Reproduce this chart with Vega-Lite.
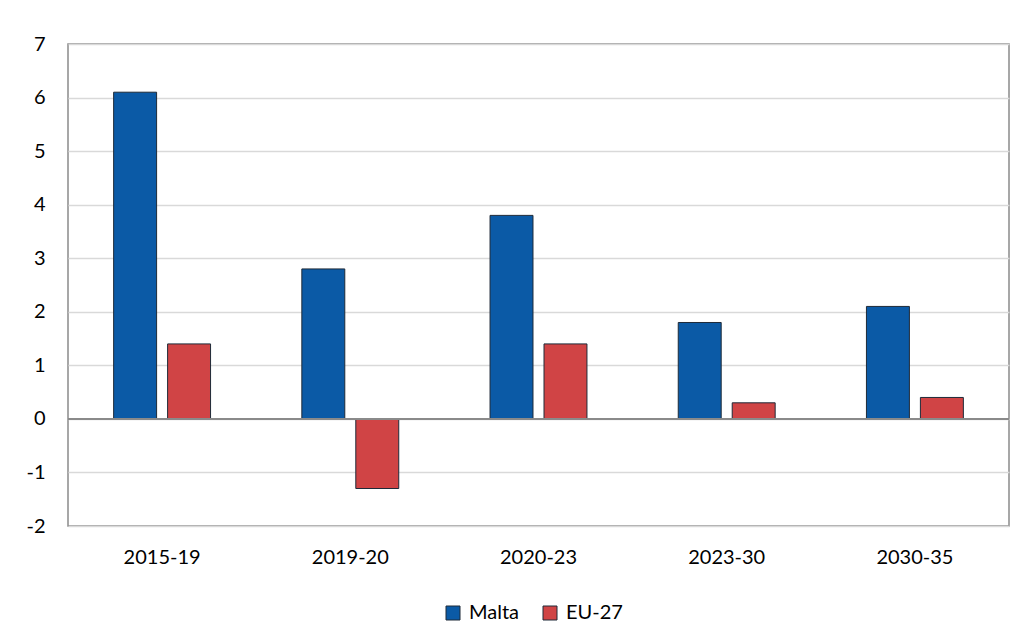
{
  "$schema": "https://vega.github.io/schema/vega-lite/v6.json",
  "autosize": "none",
  "width": 941,
  "height": 482,
  "padding": {"left": 68, "top": 44, "right": 16, "bottom": 115},
  "background": "white",
  "config": {
    "font": "Lato",
    "view": {"stroke": "#8a8a8a", "strokeWidth": 1.5},
    "axis": {"labelFont": "Lato", "labelFontSize": 20, "labelColor": "#000000", "ticks": false, "domain": false}
  },
  "data": {
    "values": [
      {"period": "2015-19", "series": "Malta", "value": 6.1},
      {"period": "2015-19", "series": "EU-27", "value": 1.4},
      {"period": "2019-20", "series": "Malta", "value": 2.8},
      {"period": "2019-20", "series": "EU-27", "value": -1.3},
      {"period": "2020-23", "series": "Malta", "value": 3.8},
      {"period": "2020-23", "series": "EU-27", "value": 1.4},
      {"period": "2023-30", "series": "Malta", "value": 1.8},
      {"period": "2023-30", "series": "EU-27", "value": 0.3},
      {"period": "2030-35", "series": "Malta", "value": 2.1},
      {"period": "2030-35", "series": "EU-27", "value": 0.4}
    ]
  },
  "layer": [
    {
      "mark": {"type": "bar", "stroke": "#1e2a38", "strokeWidth": 1},
      "encoding": {
        "x": {
          "field": "period", "type": "nominal", "title": null,
          "sort": ["2015-19", "2019-20", "2020-23", "2023-30", "2030-35"],
          "scale": {"paddingInner": 0.485, "paddingOuter": 0.2425},
          "axis": {"labelAngle": 0, "labelPadding": 21, "grid": false}
        },
        "xOffset": {
          "field": "series", "type": "nominal",
          "sort": ["Malta", "EU-27"],
          "scale": {"paddingInner": 0.204, "paddingOuter": 0}
        },
        "y": {
          "field": "value", "type": "quantitative", "title": null,
          "scale": {"domain": [-2, 7], "nice": false, "zero": false},
          "axis": {"values": [-2, -1, 0, 1, 2, 3, 4, 5, 6, 7], "labelExpr": "'' + datum.value", "labelPadding": 23, "gridColor": "#d9d9d9", "gridWidth": 1.5}
        },
        "color": {
          "field": "series", "type": "nominal",
          "scale": {"domain": ["Malta", "EU-27"], "range": ["#0b5aa6", "#d04445"]},
          "legend": {
            "title": null, "orient": "none", "direction": "horizontal",
            "legendX": 375, "legendY": 559,
            "symbolType": "square", "symbolSize": 196,
            "symbolStrokeColor": "#1e2a38", "symbolStrokeWidth": 1,
            "labelFontSize": 20, "labelFont": "Lato", "labelColor": "#000000",
            "labelOffset": 6, "columnPadding": 20
          }
        }
      }
    },
    {
      "mark": {"type": "rule", "color": "#8a8a8a", "strokeWidth": 2},
      "encoding": {"y": {"datum": 0, "type": "quantitative"}}
    }
  ]
}
